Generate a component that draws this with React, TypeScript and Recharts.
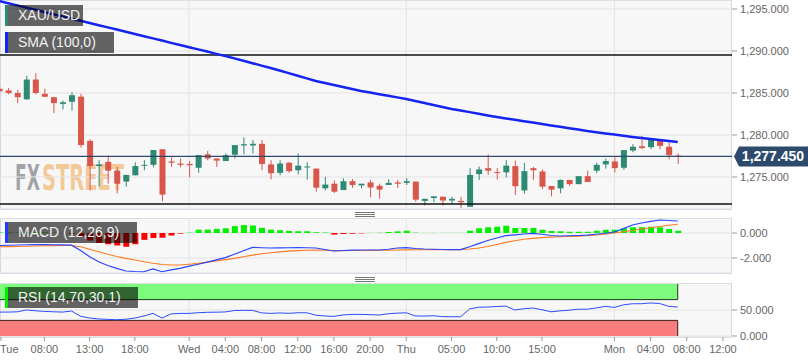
import React from 'react';
import {
  ComposedChart,
  Bar,
  Line,
  XAxis,
  YAxis,
  CartesianGrid,
  ReferenceLine,
  ReferenceArea,
  Cell,
} from 'recharts';

// hourly XAU/USD candles, index 0 = Tue 03:00
const opens = [
  1285.5, 1285.3, 1285.0, 1284.25, 1286.6, 1284.9, 1284.5, 1283.7, 1283.96, 1284.56,
  1279.3, 1276.3, 1276.8, 1275.75, 1274.45, 1275.2, 1276.4, 1276.45, 1278.3, 1276.85,
  1276.6, 1276.55, 1276.1, 1277.7, 1277.2, 1276.9, 1277.65, 1278.75, 1278.75, 1278.95,
  1276.5, 1275.5, 1276.7, 1275.8, 1276.15, 1276.0, 1273.65, 1274.2, 1273.45, 1274.5,
  1274.0, 1274.35, 1273.95, 1274.05, 1274.35, 1274.3, 1274.45, 1272.15, 1272.5, 1272.65,
  1272.2, 1272.15, 1271.45, 1275.35, 1276.05, 1275.6, 1275.55, 1276.3, 1273.4, 1276.05,
  1275.65, 1273.93, 1273.65, 1274.65, 1274.15, 1275.1, 1275.75, 1276.5, 1276.85, 1276.1,
  1278.15, 1278.65, 1278.55, 1279.3, 1278.6, 1277.55,
];
const highs = [
  1285.8, 1285.6, 1285.4, 1287.05, 1287.35, 1285.5, 1284.55, 1284.1, 1285.08, 1284.9,
  1279.5, 1277.0, 1277.55, 1276.2, 1275.25, 1276.75, 1277.0, 1278.2, 1278.3, 1277.35,
  1277.2, 1276.9, 1277.6, 1278.1, 1277.2, 1277.8, 1278.8, 1279.7, 1279.4, 1279.4,
  1277.0, 1277.0, 1276.8, 1277.8, 1276.75, 1276.0, 1275.0, 1274.6, 1274.85, 1274.75,
  1274.2, 1274.65, 1274.2, 1274.75, 1274.65, 1274.85, 1274.45, 1272.4, 1272.7, 1272.65,
  1272.65, 1272.65, 1276.05, 1276.25, 1277.7, 1276.05, 1277.0, 1276.95, 1276.7, 1276.2,
  1275.9, 1273.93, 1274.7, 1274.65, 1275.1, 1275.75, 1276.7, 1277.2, 1277.35, 1278.2,
  1278.9, 1279.9, 1279.4, 1279.5, 1279.1, 1277.8,
];
const lows = [
  1284.9, 1284.85, 1283.8, 1284.2, 1284.85, 1284.5, 1282.6, 1283.05, 1282.9, 1278.5,
  1273.4, 1273.85, 1274.2, 1273.05, 1273.85, 1275.2, 1275.8, 1276.15, 1272.1, 1276.2,
  1276.15, 1274.95, 1275.5, 1277.0, 1276.2, 1276.9, 1277.2, 1277.7, 1277.8, 1275.8,
  1274.7, 1275.2, 1275.5, 1275.3, 1274.7, 1273.25, 1273.4, 1273.1, 1273.45, 1273.7,
  1273.65, 1272.6, 1272.4, 1274.05, 1273.7, 1274.05, 1272.05, 1271.6, 1272.0, 1271.6,
  1271.75, 1271.3, 1271.45, 1274.65, 1275.25, 1274.7, 1274.95, 1272.85, 1273.0, 1274.65,
  1273.55, 1272.7, 1273.05, 1273.95, 1274.15, 1274.4, 1275.45, 1276.0, 1275.55, 1275.85,
  1277.95, 1278.3, 1278.3, 1278.3, 1277.1, 1276.55,
];
const closes = [
  1285.2, 1285.0, 1284.5, 1286.6, 1285.0, 1284.55, 1283.8, 1283.9, 1284.73, 1278.8,
  1276.3, 1276.5, 1275.75, 1274.2, 1275.25, 1276.3, 1276.45, 1278.2, 1272.9, 1276.7,
  1276.45, 1276.4, 1277.6, 1277.2, 1276.95, 1277.6, 1278.8, 1278.9, 1278.95, 1276.55,
  1275.45, 1276.6, 1275.7, 1276.35, 1276.25, 1273.73, 1274.1, 1273.25, 1274.5, 1274.05,
  1274.2, 1273.75, 1273.5, 1274.3, 1274.2, 1274.5, 1272.3, 1272.4, 1272.7, 1272.2,
  1272.4, 1272.0, 1275.25, 1275.9, 1275.75, 1275.5, 1276.35, 1273.9, 1275.7, 1275.8,
  1273.85, 1273.5, 1274.65, 1274.15, 1275.1, 1274.4, 1276.45, 1276.9, 1276.05, 1278.2,
  1278.6, 1278.45, 1279.4, 1278.7, 1277.6, 1277.45,
];
const sma100 = [
  1295.95, 1295.69, 1295.43, 1295.16, 1294.9, 1294.64, 1294.38, 1294.12, 1293.85, 1293.59,
  1293.33, 1293.07, 1292.81, 1292.55, 1292.28, 1292.02, 1291.76, 1291.5, 1291.24, 1290.97,
  1290.71, 1290.45, 1290.19, 1289.93, 1289.66, 1289.4, 1289.12, 1288.83, 1288.55, 1288.26,
  1287.98, 1287.67, 1287.36, 1287.05, 1286.74, 1286.43, 1286.19, 1285.95, 1285.71, 1285.48,
  1285.24, 1285.05, 1284.86, 1284.67, 1284.48, 1284.29, 1284.05, 1283.81, 1283.57, 1283.34,
  1283.1, 1282.91, 1282.72, 1282.53, 1282.33, 1282.14, 1281.97, 1281.81, 1281.64, 1281.48,
  1281.31, 1281.14, 1280.98, 1280.81, 1280.65, 1280.48, 1280.34, 1280.19, 1280.05, 1279.9,
  1279.76, 1279.64, 1279.52, 1279.41, 1279.29, 1279.17,
];
const macdLine = [
  -1.0, -0.98, -0.96, -0.94, -0.92, -0.93, -0.94, -0.95, -0.97, -1.4,
  -1.9, -2.3, -2.6, -2.83, -3.04, -3.08, -3.1, -2.88, -3.1, -2.95,
  -2.83, -2.65, -2.5, -2.33, -2.15, -1.97, -1.7, -1.42, -1.15, -1.18,
  -1.2, -1.19, -1.18, -1.17, -1.18, -1.2, -1.32, -1.44, -1.4, -1.37,
  -1.36, -1.36, -1.36, -1.3, -1.2, -1.17, -1.24, -1.28, -1.3, -1.32,
  -1.33, -1.33, -1.1, -0.85, -0.6, -0.4, -0.21, -0.15, -0.08, -0.03,
  -0.1, -0.2, -0.24, -0.22, -0.2, -0.17, -0.1, -0.02, 0.08, 0.35,
  0.64, 0.8, 0.93, 1.04, 1.0, 0.96,
];
const signalLine = [
  -1.1, -1.09, -1.08, -1.06, -1.04, -1.02, -1.01, -1.0, -1.0, -1.1,
  -1.3, -1.5, -1.7, -1.88, -2.03, -2.16, -2.3, -2.42, -2.52, -2.56,
  -2.56, -2.5, -2.43, -2.33, -2.23, -2.13, -2.03, -1.9, -1.77, -1.66,
  -1.58, -1.51, -1.45, -1.41, -1.38, -1.36, -1.38, -1.41, -1.41, -1.4,
  -1.4, -1.39, -1.38, -1.37, -1.36, -1.35, -1.34, -1.34, -1.33, -1.33,
  -1.33, -1.33, -1.28, -1.2, -1.08, -0.92, -0.75, -0.62, -0.5, -0.43,
  -0.37, -0.33, -0.3, -0.28, -0.25, -0.22, -0.16, -0.08, 0.0, 0.1,
  0.2, 0.32, 0.42, 0.52, 0.62, 0.7,
];
const macdHist = [
  0.05, 0.04, 0.03, 0.05, 0.06, 0.04, 0.02, 0.0, -0.05, -0.3,
  -0.6, -0.8, -0.9, -1.0, -1.1, -0.9, -0.55, -0.4, -0.38, -0.2,
  -0.05, 0.03, 0.27, 0.27, 0.33, 0.38, 0.55, 0.63, 0.6, 0.41,
  0.27, 0.22, 0.16, 0.14, 0.14, 0.06, 0.04, -0.13, -0.08, -0.06,
  -0.03, 0.01, 0.02, 0.08, 0.13, 0.18, 0.03, 0.01, 0.01, 0.01,
  0.01, 0.01, 0.18, 0.38, 0.46, 0.5, 0.58, 0.4, 0.4, 0.4,
  0.26, 0.16, 0.14, 0.1, 0.1, 0.1, 0.18, 0.26, 0.26, 0.38,
  0.46, 0.46, 0.5, 0.46, 0.32, 0.18,
];
const rsi14 = [
  46, 46, 46.5, 50, 48.5, 47.3, 46.6, 46, 48, 38,
  34.5, 32.8, 32, 31.3, 32.3, 34.5, 38.5, 43.5, 34.5, 42.5,
  43.5, 43.5, 44.8, 45.6, 45.8, 46.3, 49, 49.3, 49.3, 44.5,
  43.5, 44.3, 43.6, 44.7, 44.7, 40, 38.5, 37.7, 40.5, 41.6,
  41.6, 41, 40.3, 42.8, 44, 44.7, 38.5, 38.3, 39, 37.2,
  37, 37, 52, 55.3, 55.7, 56.7, 57.5, 50, 52.5, 53.8,
  50.5, 46.5, 48.3, 49.6, 51.5, 51.5, 54, 57, 55, 60,
  62, 62.1, 63.5, 62.5, 57, 55.7,
];

const tickPositions = [0.2, 5, 10, 15, 21, 25, 29, 33, 37, 41, 45, 50, 55, 60, 68, 72, 76, 80];
const tickLabels = [
  'Tue', '08:00', '13:00', '18:00', 'Wed', '04:00', '08:00', '12:00', '16:00', '20:00',
  'Thu', '05:00', '10:00', '15:00', 'Mon', '04:00', '08:00', '12:00',
];
const dayBreaks = [21, 45, 68];
const priceTicks = [1275, 1280, 1285, 1290, 1295];
const macdTicks = [-2, 0];
const rsiTicks = [0, 50];
const lastPrice = 1277.45;
const rangeHigh = 1289.52;
const rangeLow = 1271.79;

const X_MIN = 0.094;
const X_MAX = 81.0;
const LAST = opens.length - 1;

const GREEN = '#2e8a73';
const RED = '#d9574a';
const NAVY = '#2d4a6d';
const GRID = '#e3e3e3';
const TICK = '#666';

const fmt = (v: number) =>
  v.toLocaleString('en-US', { minimumFractionDigits: 3, maximumFractionDigits: 3 });

const data = opens.map((o, k) => ({
  k,
  o,
  h: highs[k],
  l: lows[k],
  c: closes[k],
  range: [lows[k], highs[k]],
  sma: sma100[k],
  macd: macdLine[k],
  signal: signalLine[k],
  hist: macdHist[k],
  rsi: rsi14[k],
}));

const Candle = (props: any) => {
  const { x, y, width, height, payload } = props;
  if (x == null || y == null) return null;
  const { o, c, h, l } = payload;
  const top = Math.min(y, y + height);
  const span = Math.abs(height);
  const ppu = span / (h - l || 1);
  const yOf = (v: number) => top + (h - v) * ppu;
  const cx = x + width / 2;
  const color = c >= o ? GREEN : RED;
  const bTop = yOf(Math.max(o, c));
  const bBot = yOf(Math.min(o, c));
  return (
    <g>
      <line x1={cx} x2={cx} y1={top} y2={top + span} stroke={color} strokeWidth={1} />
      <rect x={cx - 3} y={bTop} width={6} height={Math.max(1, bBot - bTop)} fill={color} />
    </g>
  );
};

const PriceTag = (props: any) => {
  const { viewBox } = props;
  if (!viewBox) return null;
  const y = viewBox.y;
  const x0 = viewBox.x + viewBox.width + 2;
  return (
    <g>
      <path
        d={`M${x0} ${y} L${x0 + 5} ${y - 10} L${x0 + 74} ${y - 10} L${x0 + 74} ${y + 10} L${x0 + 5} ${y + 10} Z`}
        fill={NAVY}
      />
      <text x={x0 + 39} y={y + 5} textAnchor="middle" fill="#fff" fontSize={14} fontWeight="bold">
        {fmt(lastPrice)}
      </text>
    </g>
  );
};

const TimeTick = (props: any) => {
  const { x, y, payload, index } = props;
  const i = tickPositions.indexOf(payload.value);
  const first = index === 0;
  return (
    <text x={first ? 0 : x} y={y} dy={10} textAnchor={first ? 'start' : 'middle'} fill={TICK} fontSize={11}>
      {i >= 0 ? tickLabels[i] : ''}
    </text>
  );
};

const Legend = ({ top, width, color, text }: { top: number; width: number; color: string; text: string }) => (
  <div
    style={{
      position: 'absolute',
      left: 5,
      top,
      width,
      height: 21,
      background: 'rgba(0,0,0,0.6)',
      color: '#f2f2f2',
      fontSize: 14,
      lineHeight: '21px',
      boxSizing: 'border-box',
      paddingLeft: 13,
      whiteSpace: 'nowrap',
    }}
  >
    <div style={{ position: 'absolute', left: 0, top: 0, width: 3, height: 21, background: color }} />
    {text}
  </div>
);

const Handle = ({ top }: { top: number }) => (
  <div style={{ position: 'absolute', left: 355, top, width: 20 }}>
    {[0, 2, 4].map((d) => (
      <div key={d} style={{ position: 'absolute', top: d, width: 20, height: 1, background: '#777' }} />
    ))}
  </div>
);

const panelBg = (top: number, height: number) => (
  <div
    style={{
      position: 'absolute',
      left: 0,
      top,
      width: 732,
      height,
      background: '#f7f7f7',
      border: '1px solid #d3d9e4',
      boxSizing: 'border-box',
    }}
  />
);

const yTick = { fill: TICK, fontSize: 11 };
const markFont = '"DejaVu Sans Condensed", "Liberation Sans Narrow", sans-serif';

export default function App() {
  return (
    <div
      style={{
        position: 'relative',
        width: 808,
        height: 363,
        background: '#fff',
        fontFamily: '"Liberation Sans", Arial, sans-serif',
        overflow: 'hidden',
      }}
    >
      <style>{'body{margin:0}'}</style>
      {panelBg(0, 210)}
      {panelBg(218, 56)}
      {panelBg(283, 55)}
      <Handle top={212} />
      <Handle top={277} />

      {/* watermark */}
      <svg style={{ position: 'absolute', left: 0, top: 0 }} width={200} height={200}>
        <g transform="translate(0,189.5) scale(1,1.85)">
          <text x={15} y={0} fontSize={19} fontWeight="bold" fill="#8f949a" fillOpacity={0.85}
            fontFamily={markFont} textLength={25} lengthAdjust="spacingAndGlyphs">FX</text>
          <text x={42} y={0} fontSize={19} fontWeight="bold" fill="#f3c187" fillOpacity={0.85}
            fontFamily={markFont} textLength={82} lengthAdjust="spacingAndGlyphs">STREET</text>
        </g>
      </svg>

      <div style={{ position: 'absolute', left: 0, top: 0 }}>
        <ComposedChart width={808} height={209} data={data} margin={{ top: 0, right: 0, bottom: 0, left: 0 }}>
          <CartesianGrid stroke={GRID} verticalValues={dayBreaks} />
          <XAxis dataKey="k" type="number" domain={[X_MIN, X_MAX]} allowDataOverflow hide height={0} />
          <YAxis
            orientation="right"
            width={76}
            domain={[1271.19, 1296.07]}
            allowDataOverflow
            ticks={priceTicks}
            tickFormatter={fmt}
            tick={yTick}
            tickSize={5}
            tickMargin={3}
            axisLine={false}
            tickLine={{ stroke: '#999' }}
          />
          <ReferenceLine y={rangeHigh} stroke="#111" strokeWidth={1.5} />
          <ReferenceLine y={rangeLow} stroke="#111" strokeWidth={1.5} />
          <Bar dataKey="range" barSize={6} shape={<Candle />} isAnimationActive={false} />
          <ReferenceLine y={lastPrice} stroke={NAVY} strokeWidth={1.2} label={<PriceTag />} />
          <Line dataKey="sma" stroke="#1424f2" strokeWidth={2.5} dot={false} isAnimationActive={false} />
        </ComposedChart>
      </div>

      <div style={{ position: 'absolute', left: 0, top: 218 }}>
        <ComposedChart width={808} height={55} data={data} margin={{ top: 0, right: 0, bottom: 0, left: 0 }}>
          <CartesianGrid stroke={GRID} verticalValues={dayBreaks} />
          <XAxis dataKey="k" type="number" domain={[X_MIN, X_MAX]} allowDataOverflow hide height={0} />
          <YAxis
            orientation="right"
            width={76}
            domain={[-3.2, 1.2]}
            allowDataOverflow
            ticks={macdTicks}
            tickFormatter={fmt}
            tick={yTick}
            tickSize={5}
            tickMargin={3}
            axisLine={false}
            tickLine={{ stroke: '#999' }}
          />
          <Bar dataKey="hist" barSize={6} isAnimationActive={false}>
            {data.map((d) => (
              <Cell key={d.k} fill={d.hist >= 0 ? '#00f000' : '#ff0000'} />
            ))}
          </Bar>
          <Line dataKey="signal" stroke="#ff7a22" strokeWidth={1.2} dot={false} isAnimationActive={false} />
          <Line dataKey="macd" stroke="#2846ff" strokeWidth={1.2} dot={false} isAnimationActive={false} />
        </ComposedChart>
      </div>

      <div style={{ position: 'absolute', left: 0, top: 283 }}>
        <ComposedChart width={808} height={80} data={data} margin={{ top: 0, right: 0, bottom: 0, left: 0 }}>
          <CartesianGrid stroke={GRID} verticalValues={dayBreaks} />
          <XAxis
            dataKey="k"
            type="number"
            domain={[X_MIN, X_MAX]}
            allowDataOverflow
            ticks={tickPositions}
            interval={0}
            height={26}
            tickSize={4}
            tickMargin={2}
            axisLine={false}
            tickLine={{ stroke: '#999' }}
            tick={<TimeTick />}
          />
          <YAxis
            orientation="right"
            width={76}
            domain={[-1.9, 101.9]}
            allowDataOverflow
            ticks={rsiTicks}
            tickFormatter={fmt}
            tick={yTick}
            tickSize={5}
            tickMargin={3}
            axisLine={false}
            tickLine={{ stroke: '#999' }}
          />
          <ReferenceArea x1={X_MIN} x2={LAST} y1={70} y2={100} fill="#7cfb7c" fillOpacity={1} stroke="none" />
          <ReferenceArea x1={X_MIN} x2={LAST} y1={0} y2={30} fill="#fa7c7c" fillOpacity={1} stroke="none" />
          <ReferenceLine segment={[{ x: X_MIN, y: 70 }, { x: LAST, y: 70 }]} stroke="#1e3a1e" />
          <ReferenceLine segment={[{ x: LAST, y: 70 }, { x: LAST, y: 100 }]} stroke="#1e3a1e" />
          <ReferenceLine segment={[{ x: X_MIN, y: 30 }, { x: LAST, y: 30 }]} stroke="#3a1e1e" />
          <ReferenceLine segment={[{ x: LAST, y: 0 }, { x: LAST, y: 30 }]} stroke="#3a1e1e" />
          <Line dataKey="rsi" stroke="#2c4cff" strokeWidth={1} dot={false} isAnimationActive={false} />
        </ComposedChart>
      </div>

      <Legend top={5} width={78} color="#2e8a73" text="XAU/USD" />
      <Legend top={32} width={109} color="#1424f2" text="SMA (100,0)" />
      <Legend top={222} width={132} color="#1f3cff" text="MACD (12,26,9)" />
      <Legend top={287} width={133} color="#00ee00" text="RSI (14,70,30,1)" />
    </div>
  );
}
